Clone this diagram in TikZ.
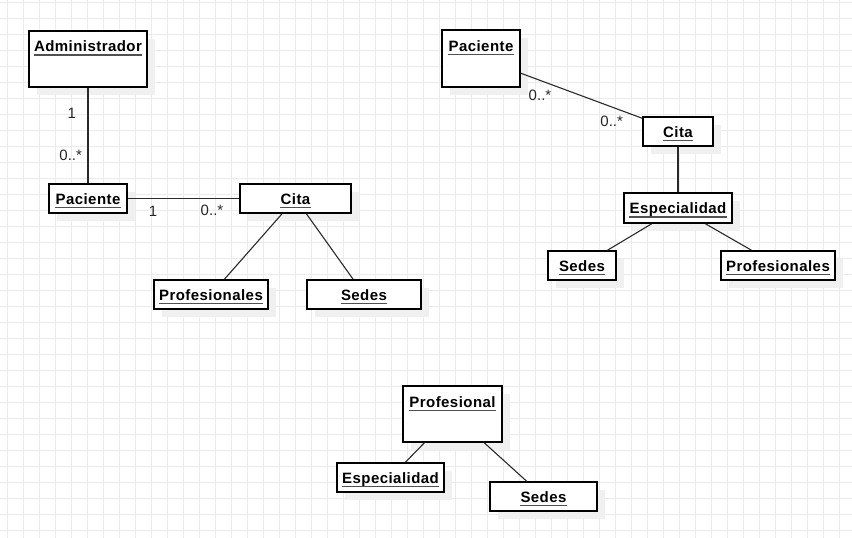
\documentclass[tikz,border=0pt]{standalone}
\usepackage{fontspec}
\setmainfont{Liberation Sans}
\newfontfamily\titlefont[LetterSpace=3]{Liberation Sans}
\usetikzlibrary{shadows}
\definecolor{gridc}{HTML}{EBEBEB}
\definecolor{shadc}{HTML}{F0F0F0}
\definecolor{linec}{HTML}{2A2A2A}
\definecolor{ulinec}{HTML}{505050}
\newcommand\umltitle[4]{%
  \node[titletext] (#1) at (#2,#3) {#4};
  \draw[uline] ([yshift=-3.6pt]#1.base west) -- ([yshift=-3.6pt]#1.base east);}
\begin{document}
\begin{tikzpicture}[x=1pt,y=-1pt,
  umlbox/.style={draw=black, line width=1.6pt, fill=white, inner sep=0pt,
    drop shadow={shadow xshift=8pt, shadow yshift=-8pt, fill=shadc, opacity=1}},
  titletext/.style={anchor=base, inner sep=0pt, font=\titlefont\bfseries\fontsize{15}{18}\selectfont},
  uline/.style={draw=ulinec, line width=1.5pt},
  conn/.style={draw=linec, line width=1.1pt},
  mult/.style={inner sep=0pt, text=black!85, font=\fontsize{15}{18}\selectfont}]
\useasboundingbox (0,0) rectangle (852,538);
\fill[white] (0,0) rectangle (852,538);
% grid
\foreach \k in {0,...,52} \draw[gridc, line width=1pt] ({7.7+16*\k},0) -- ({7.7+16*\k},538);
\foreach \k in {0,...,33} \draw[gridc, line width=1pt] (0,{2+16*\k}) -- (852,{2+16*\k});

% ---- diagram 1
\node[umlbox, minimum width=118pt, minimum height=56pt] (admin) at (88,59) {};
\node[umlbox, minimum width=78pt, minimum height=29pt] (pac1) at (88,198.5) {};
\node[umlbox, minimum width=111pt, minimum height=29pt] (cita1) at (295.5,198.5) {};
\node[umlbox, minimum width=114pt, minimum height=29pt] (prof1) at (211,294.5) {};
\node[umlbox, minimum width=114pt, minimum height=29pt] (sedes1) at (364,294.5) {};
% ---- diagram 2
\node[umlbox, minimum width=78pt, minimum height=57pt] (pac2) at (481,58.5) {};
\node[umlbox, minimum width=70pt, minimum height=29pt] (cita2) at (678,131.5) {};
\node[umlbox, minimum width=108pt, minimum height=30pt] (esp2) at (678,208) {};
\node[umlbox, minimum width=68pt, minimum height=29pt] (sedes2) at (582,265.5) {};
\node[umlbox, minimum width=114pt, minimum height=29pt] (prof2) at (778,265.5) {};
% ---- diagram 3
\node[umlbox, minimum width=99pt, minimum height=56pt] (profl) at (452.5,414) {};
\node[umlbox, minimum width=107pt, minimum height=29pt] (esp3) at (390.5,477.5) {};
\node[umlbox, minimum width=107pt, minimum height=29pt] (sedes3) at (543.5,496.5) {};

% titles
\umltitle{adminT}{88}{51.5}{Administrador}
\umltitle{pac1T}{88}{204}{Paciente}
\umltitle{cita1T}{295.5}{204}{Cita}
\umltitle{prof1T}{211}{300}{Profesionales}
\umltitle{sedes1T}{364}{300}{Sedes}
\umltitle{pac2T}{481}{51}{Paciente}
\umltitle{cita2T}{678}{137}{Cita}
\umltitle{esp2T}{678}{213.5}{Especialidad}
\umltitle{sedes2T}{582}{271}{Sedes}
\umltitle{prof2T}{778}{271}{Profesionales}
\umltitle{proflT}{452.5}{407}{Profesional}
\umltitle{esp3T}{390.5}{483}{Especialidad}
\umltitle{sedes3T}{543.5}{502}{Sedes}

% connectors
\draw[conn] (admin) -- (pac1);
\draw[conn] (pac1) -- (cita1);
\draw[conn] (cita1) -- (prof1);
\draw[conn] (cita1) -- (sedes1);
\draw[conn] (pac2) -- (cita2);
\draw[conn] (cita2) -- (esp2);
\draw[conn] (esp2) -- (sedes2);
\draw[conn] (esp2) -- (prof2);
\draw[conn] (profl) -- (esp3);
\draw[conn] (profl) -- (sedes3);

% multiplicities
\node[mult] (m1) at (71.7,113) {1};
\node[mult] (m2) at (70.7,155) {0..*};
\node[mult] (m3) at (153,211.5) {1};
\node[mult] (m4) at (212,210.5) {0..*};
\node[mult] (m5) at (540,95) {0..*};
\node[mult] (m6) at (611.7,121.5) {0..*};
\end{tikzpicture}
\end{document}
